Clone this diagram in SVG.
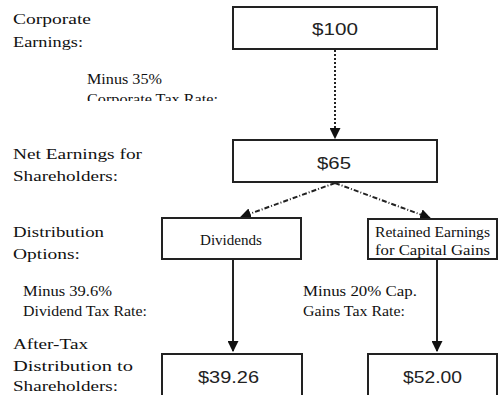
<svg xmlns="http://www.w3.org/2000/svg" width="498" height="395" viewBox="0 0 498 395">
<style>
.box{fill:#fff;stroke:#222;stroke-width:2}
.lbl{font-family:"Liberation Serif",serif;font-size:15px;fill:#111}
.sm{font-family:"Liberation Serif",serif;font-size:14px;fill:#111}
.bt{font-family:"Liberation Serif",serif;font-size:14px;fill:#111}
.num{font-family:"Liberation Sans",sans-serif;font-size:17px;fill:#222;text-anchor:middle}
.dot{stroke:#222;stroke-width:2;stroke-dasharray:2,2;fill:none}
.dash{stroke:#222;stroke-width:2;stroke-dasharray:5,2,1,2;fill:none}
.solid{stroke:#222;stroke-width:2;fill:none}
</style>
<defs>
<marker id="ah" viewBox="0 0 10 10" refX="9" refY="5" markerWidth="5.5" markerHeight="5.5" markerUnits="strokeWidth" orient="auto">
<path d="M0,0 L10,5 L0,10 z" fill="#111"/>
</marker>
<clipPath id="clip1"><rect x="0" y="0" width="498" height="101"/></clipPath>
</defs>
<rect width="498" height="395" fill="#fff"/>

<g id="labels">
<text class="lbl" x="13" y="24" textLength="78" lengthAdjust="spacingAndGlyphs">Corporate</text>
<text class="lbl" x="13" y="47" textLength="70" lengthAdjust="spacingAndGlyphs">Earnings:</text>
<text class="sm" x="87" y="84" textLength="75" lengthAdjust="spacingAndGlyphs">Minus 35%</text>
<text class="sm" x="87" y="104" textLength="131" lengthAdjust="spacingAndGlyphs" clip-path="url(#clip1)">Corporate Tax Rate:</text>
<text class="lbl" x="13" y="159" textLength="129" lengthAdjust="spacingAndGlyphs">Net Earnings for</text>
<text class="lbl" x="13" y="181" textLength="105" lengthAdjust="spacingAndGlyphs">Shareholders:</text>
<text class="lbl" x="13" y="237" textLength="91" lengthAdjust="spacingAndGlyphs">Distribution</text>
<text class="lbl" x="13" y="259" textLength="67" lengthAdjust="spacingAndGlyphs">Options:</text>
<text class="sm" x="23" y="296" textLength="89" lengthAdjust="spacingAndGlyphs">Minus 39.6%</text>
<text class="sm" x="23" y="316" textLength="124" lengthAdjust="spacingAndGlyphs">Dividend Tax Rate:</text>
<text class="sm" x="303" y="296" textLength="114" lengthAdjust="spacingAndGlyphs">Minus 20% Cap.</text>
<text class="sm" x="303" y="316" textLength="102" lengthAdjust="spacingAndGlyphs">Gains Tax Rate:</text>
<text class="lbl" x="13" y="349" textLength="75" lengthAdjust="spacingAndGlyphs">After-Tax</text>
<text class="lbl" x="13" y="371" textLength="120" lengthAdjust="spacingAndGlyphs">Distribution to</text>
<text class="lbl" x="13" y="391" textLength="105" lengthAdjust="spacingAndGlyphs">Shareholders:</text>
</g>

<g id="connectors">
<line class="dot" x1="335" y1="50" x2="335" y2="138" marker-end="url(#ah)"/>
<line class="dash" x1="335" y1="183" x2="241" y2="217" marker-end="url(#ah)"/>
<line class="dash" x1="335" y1="183" x2="430" y2="218" marker-end="url(#ah)"/>
<line class="solid" x1="233" y1="260" x2="233" y2="351" marker-end="url(#ah)"/>
<line class="solid" x1="437" y1="260" x2="437" y2="351" marker-end="url(#ah)"/>
</g>

<g id="n100">
<rect class="box" x="233" y="7" width="204" height="42"/>
<text class="num" x="335" y="35" textLength="46" lengthAdjust="spacingAndGlyphs">$100</text>
</g>
<g id="n65">
<rect class="box" x="233" y="140" width="204" height="42"/>
<text class="num" x="334" y="169" textLength="34" lengthAdjust="spacingAndGlyphs">$65</text>
</g>
<g id="dividends">
<rect class="box" x="162" y="218" width="139" height="41"/>
<text class="bt" x="200" y="245" textLength="62" lengthAdjust="spacingAndGlyphs">Dividends</text>
</g>
<g id="retained">
<rect class="box" x="368" y="219" width="129" height="40"/>
<text class="bt" x="375" y="237" textLength="115" lengthAdjust="spacingAndGlyphs">Retained Earnings</text>
<text class="bt" x="375" y="255" textLength="115" lengthAdjust="spacingAndGlyphs">for Capital Gains</text>
</g>
<g id="n3926">
<rect class="box" x="162" y="354" width="140" height="50"/>
<text class="num" x="228.5" y="383" textLength="61" lengthAdjust="spacingAndGlyphs">$39.26</text>
</g>
<g id="n5200">
<rect class="box" x="368" y="354" width="129" height="50"/>
<text class="num" x="432.5" y="383" textLength="59" lengthAdjust="spacingAndGlyphs">$52.00</text>
</g>
</svg>
